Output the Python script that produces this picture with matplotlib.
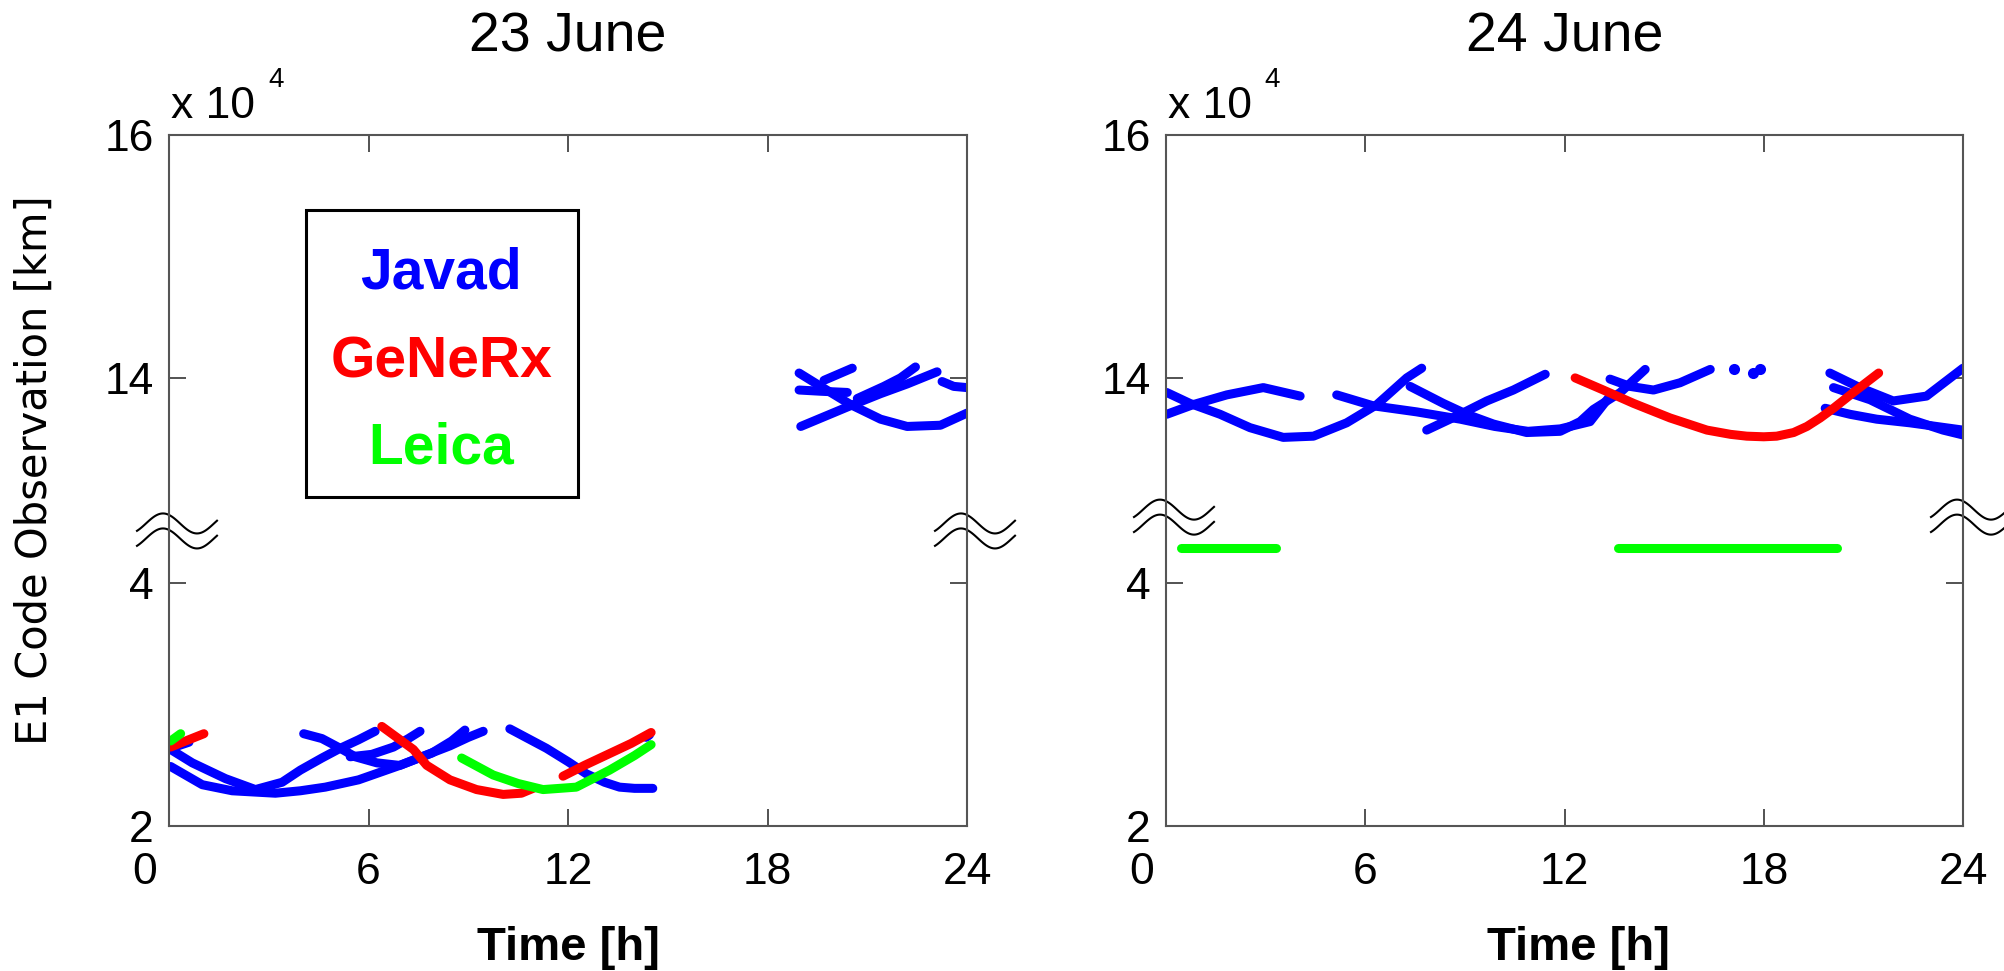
import numpy as np
import matplotlib
matplotlib.use("Agg")
import matplotlib.pyplot as plt
from matplotlib.patches import Rectangle
from matplotlib.transforms import ScaledTranslation

# ---- data (values in 10^4 km, time in hours) ----
x_ticks = [0, 6, 12, 18, 24]
y_ticks = [2, 4, 14, 16]
y_ticklabels = ["2", "4", "14", "16"]
day_titles = ["23 June", "24 June"]
receivers = ["Javad", "GeNeRx", "Leica"]
receiver_colors = ["#0000ff", "#ff0000", "#00ff00"]

# 23 June
jun23_javad_t = [
    [0.05, 0.6],
    [0.05, 0.7, 1.7, 2.6, 3.4, 3.95, 4.6, 5.15, 5.7, 6.2],
    [0.05, 1.0, 1.9, 3.2, 3.95, 4.7, 5.7, 6.95, 7.9, 8.5, 8.9],
    [4.05, 4.6, 5.15, 5.6, 6.25, 6.9],
    [5.45, 6.1, 6.75, 7.2, 7.55],
    [6.95, 7.6, 8.45, 9.0, 9.45],
    [10.25, 10.8, 11.35, 12.0, 12.55, 13.1, 13.55, 14.0, 14.55],
    [14.35, 14.45],
    [18.95, 19.6, 20.5, 21.4, 22.2, 23.2, 24.0],
    [19.0, 20.4, 21.4, 22.2, 23.1],
    [19.7, 20.55],
    [18.95, 19.6, 20.4],
    [20.7, 21.5, 22.0, 22.45],
    [23.25, 23.6, 24.0],
]
jun23_javad_v = [
    [2.64, 2.69],
    [2.63, 2.52, 2.39, 2.30, 2.36, 2.46, 2.56, 2.64, 2.71, 2.78],
    [2.49, 2.34, 2.29, 2.27, 2.29, 2.32, 2.38, 2.50, 2.60, 2.70, 2.79],
    [2.76, 2.72, 2.64, 2.57, 2.52, 2.50],
    [2.57, 2.59, 2.65, 2.72, 2.78],
    [2.50, 2.57, 2.66, 2.73, 2.78],
    [2.80, 2.72, 2.64, 2.53, 2.43, 2.36, 2.32, 2.31, 2.31],
    [2.73, 2.75],
    [14.04, 13.93, 13.78, 13.66, 13.60, 13.61, 13.71],
    [13.60, 13.76, 13.87, 13.95, 14.05],
    [13.98, 14.08],
    [13.90, 13.89, 13.88],
    [13.83, 13.93, 14.00, 14.09],
    [13.97, 13.93, 13.92],
]
jun23_generx_t = [
    [0.05, 0.5, 1.05],
    [6.4, 6.9, 7.35, 7.75, 8.45, 9.25, 10.05, 10.6, 10.95],
    [11.85, 12.5, 13.2, 13.9, 14.5],
]
jun23_generx_v = [
    [2.65, 2.70, 2.76],
    [2.82, 2.72, 2.63, 2.50, 2.38, 2.30, 2.26, 2.27, 2.31],
    [2.41, 2.50, 2.59, 2.68, 2.77],
]
jun23_leica_t = [
    [0.05, 0.35],
    [8.8, 9.75, 10.5, 11.25, 12.25, 13.25, 14.0, 14.5],
]
jun23_leica_v = [
    [2.70, 2.76],
    [2.56, 2.42, 2.35, 2.30, 2.32, 2.46, 2.58, 2.67],
]

# 24 June
jun24_javad_t = [
    [0.02, 0.72, 1.63, 2.53, 3.53, 4.44, 5.44, 6.35, 7.25, 7.7],
    [0.02, 0.82, 1.83, 2.93, 4.04],
    [5.14, 6.24, 7.55, 8.86, 9.9, 10.9, 11.87, 12.77, 13.37],
    [7.35, 8.35, 9.06, 9.86, 10.86, 11.87, 12.47, 12.87, 13.68, 14.43],
    [7.85, 8.86, 9.66, 10.46, 11.42],
    [13.37, 13.97, 14.68, 15.48, 16.39],
    [19.99, 20.89, 21.9, 22.9, 24.0],
    [20.1, 21.2, 22.4, 23.4, 24.0],
    [19.85, 20.6, 21.4, 22.4, 24.0],
]
jun24_javad_v = [
    [13.88, 13.79, 13.70, 13.59, 13.51, 13.52, 13.63, 13.78, 14.00, 14.08],
    [13.70, 13.78, 13.86, 13.92, 13.85],
    [13.86, 13.77, 13.72, 13.66, 13.60, 13.56, 13.58, 13.64, 13.85],
    [13.93, 13.79, 13.70, 13.62, 13.55, 13.56, 13.64, 13.74, 13.88, 14.07],
    [13.57, 13.70, 13.81, 13.90, 14.03],
    [13.99, 13.93, 13.90, 13.96, 14.07],
    [14.04, 13.92, 13.81, 13.85, 14.08],
    [13.92, 13.82, 13.66, 13.57, 13.53],
    [13.75, 13.70, 13.66, 13.63, 13.57],
]
jun24_javad_dots_t = [17.09, 17.69, 17.89]
jun24_javad_dots_v = [14.07, 14.04, 14.07]
jun24_generx_t = [
    [12.32, 13.17, 14.08, 15.18, 16.29, 17.0, 17.49, 18.0, 18.39, 18.9, 19.3, 19.7, 20.1, 20.7, 21.46],
]
jun24_generx_v = [
    [14.0, 13.90, 13.79, 13.67, 13.57, 13.535, 13.52, 13.515, 13.52, 13.55, 13.60, 13.67, 13.75, 13.88, 14.04],
]
jun24_leica_t = [[0.45, 3.3], [13.6, 20.2]]
jun24_leica_v = [[4.29, 4.29], [4.29, 4.29]]

# ---- broken y axis (gap between ~4.4 and ~12.7 x10^4 km) ----
BREAK_LO, BREAK_HI = 4.42, 12.73


def fwd(y):
    y = np.asarray(y, dtype=float)
    return np.where(y <= BREAK_LO, y,
                    np.where(y >= BREAK_HI, y - (BREAK_HI - BREAK_LO), BREAK_LO))


def inv(t):
    t = np.asarray(t, dtype=float)
    return np.where(t <= BREAK_LO, t, t + (BREAK_HI - BREAK_LO))


plt.rcParams["font.family"] = ["Liberation Sans", "DejaVu Sans"]

W, H = 2004, 971
fig = plt.figure(figsize=(W / 100, H / 100), dpi=100)

axes_px = [(169, 798), (1166, 797)]
break_y = [0.427, 0.447]
xlabel_x = [0.500, 0.517]

days = [
    (jun23_javad_t, jun23_javad_v, jun23_generx_t, jun23_generx_v, jun23_leica_t, jun23_leica_v),
    (jun24_javad_t, jun24_javad_v, jun24_generx_t, jun24_generx_v, jun24_leica_t, jun24_leica_v),
]

line_kw = dict(lw=6.5, solid_capstyle="round", solid_joinstyle="round")

for i, (left_px, width_px) in enumerate(axes_px):
    ax = fig.add_axes([left_px / W, (H - 826) / H, width_px / W, 691 / H])
    ax.set_yscale("function", functions=(fwd, inv))

    jt, jv, gt, gv, lt, lv = days[i]
    for t, v in zip(jt, jv):
        ax.plot(t, v, color=receiver_colors[0], **line_kw)
    if i == 1:
        ax.plot(jun24_javad_dots_t, jun24_javad_dots_v, "o", color=receiver_colors[0], ms=8, mew=0)
    for t, v in zip(gt, gv):
        ax.plot(t, v, color=receiver_colors[1], **line_kw)
    for t, v in zip(lt, lv):
        ax.plot(t, v, color=receiver_colors[2], **line_kw)

    ax.set_xlim(0, 24)
    ax.set_ylim(2, 16)
    ax.set_xticks(x_ticks)
    ax.set_yticks(y_ticks)
    ax.set_yticklabels(y_ticklabels)
    ax.minorticks_off()

    for sp in ax.spines.values():
        sp.set_color("#555555")
        sp.set_linewidth(1.5)
    ax.tick_params(direction="in", length=12, width=1.3, color="#444444",
                   labelcolor="black", labelsize=32, top=True, right=True)
    ax.tick_params(axis="x", pad=19)
    ax.tick_params(axis="y", pad=11)

    # the "0" sits under the "2" label, left of the axis corner
    lbl0 = ax.get_xticklabels()[0]
    lbl0.set_transform(lbl0.get_transform() + ScaledTranslation(-0.24, 0, fig.dpi_scale_trans))

    ax.set_title(day_titles[i], fontsize=40, pad=60)
    ax.text(0.0025, 1.0246, "x 10", transform=ax.transAxes, fontsize=32, va="baseline", ha="left")
    ax.text(0.124, 1.0695, "4", transform=ax.transAxes, fontsize=20, va="baseline", ha="left")

    ax.set_xlabel("Time [h]", fontsize=34, fontweight="bold", va="baseline")
    ax.xaxis.set_label_coords(xlabel_x[i], -0.194)

    # axis break marks on both sides
    xs = np.linspace(-32, 48, 80)
    ys = 10 * np.cos(2 * np.pi * (xs + 6) / 68)
    for x0 in (0, 1):
        for dy in (-7.5, 7.5):
            ax.plot(x0 + xs / width_px, break_y[i] + (ys + dy) / 691, color="black",
                    lw=1.5, transform=ax.transAxes, clip_on=False)

    if i == 0:
        ax.set_ylabel("E1 Code Observation [km]", fontsize=30, family="DejaVu Sans", va="center")
        ax.yaxis.set_label_coords(-0.168, 0.515)
        ax.add_patch(Rectangle((0.172, 0.476), 0.340, 0.415, transform=ax.transAxes,
                               fill=False, edgecolor="black", lw=2.2, clip_on=False))
        for name, c, yy in zip(receivers, receiver_colors, [0.800, 0.671, 0.547]):
            ax.text(0.341, yy, name, color=c, fontsize=41, fontweight="bold",
                    ha="center", va="center", transform=ax.transAxes)

fig.savefig("out.png", dpi=100)
